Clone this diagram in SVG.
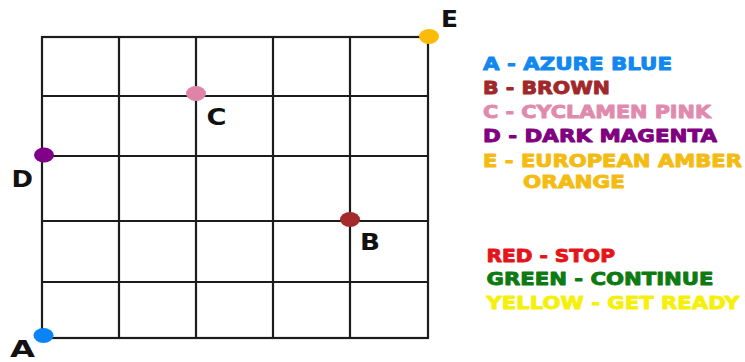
<svg xmlns="http://www.w3.org/2000/svg" width="745" height="362" viewBox="0 0 745 362">
<style>
.g{stroke:#1c1c1c;stroke-width:2.2;fill:none}
.lbl{font-family:"DejaVu Sans","Liberation Sans",sans-serif;font-weight:bold;font-size:23px;fill:#111}
.leg{font-family:"DejaVu Sans","Liberation Sans",sans-serif;font-weight:bold;font-size:17.5px;stroke-width:0.9;stroke-linejoin:round}
</style>
<rect width="745" height="362" fill="#fff"/>
<g id="grid" class="g">
<rect x="42" y="37" width="386" height="301"/>
<line x1="119" y1="37" x2="119" y2="338"/>
<line x1="196" y1="37" x2="196" y2="338"/>
<line x1="273" y1="37" x2="273" y2="338"/>
<line x1="350" y1="37" x2="350" y2="338"/>
<line x1="42" y1="96" x2="428" y2="96"/>
<line x1="42" y1="156" x2="428" y2="156"/>
<line x1="42" y1="221" x2="428" y2="221"/>
<line x1="42" y1="282" x2="428" y2="282"/>
</g>
<g id="connectors"></g>
<g id="pointA">
<ellipse cx="43.5" cy="335.5" rx="10" ry="7.5" fill="#0a84f5"/>
<text class="lbl" x="10" y="357" font-size="16" textLength="25" lengthAdjust="spacingAndGlyphs">A</text>
</g>
<g id="pointB">
<ellipse cx="350" cy="219.5" rx="10" ry="7.5" fill="#a52a2a"/>
<text class="lbl" x="360" y="250" textLength="20" lengthAdjust="spacingAndGlyphs">B</text>
</g>
<g id="pointC">
<ellipse cx="196" cy="93.5" rx="10" ry="7.5" fill="#de84a8"/>
<text class="lbl" x="206.5" y="125" textLength="20" lengthAdjust="spacingAndGlyphs">C</text>
</g>
<g id="pointD">
<ellipse cx="44" cy="155" rx="10" ry="7.5" fill="#800087"/>
<text class="lbl" x="11.5" y="187" textLength="21.5" lengthAdjust="spacingAndGlyphs">D</text>
</g>
<g id="pointE">
<ellipse cx="429" cy="36.5" rx="10" ry="7.5" fill="#fbbc09"/>
<text class="lbl" x="441" y="26.5" textLength="17" lengthAdjust="spacingAndGlyphs">E</text>
</g>
<g id="legend-points" class="leg">
<text x="483" y="70" fill="#1187f0" stroke="#1187f0" textLength="189" lengthAdjust="spacingAndGlyphs">A - AZURE BLUE</text>
<text x="483" y="93.5" fill="#a0282a" stroke="#a0282a" textLength="127" lengthAdjust="spacingAndGlyphs">B - BROWN</text>
<text x="483" y="118" fill="#e08aae" stroke="#e08aae" textLength="228" lengthAdjust="spacingAndGlyphs">C - CYCLAMEN PINK</text>
<text x="483" y="141.5" fill="#800080" stroke="#800080" textLength="234" lengthAdjust="spacingAndGlyphs">D - DARK MAGENTA</text>
<text x="483" y="166.5" fill="#f4bb12" stroke="#f4bb12" textLength="259" lengthAdjust="spacingAndGlyphs">E - EUROPEAN AMBER</text>
<text x="523" y="188" fill="#f4bb12" stroke="#f4bb12" textLength="102" lengthAdjust="spacingAndGlyphs">ORANGE</text>
</g>
<g id="legend-signals" class="leg">
<text x="486.5" y="261.5" fill="#e5141a" stroke="#e5141a" textLength="128.5" lengthAdjust="spacingAndGlyphs">RED - STOP</text>
<text x="486.5" y="285" fill="#0d7a12" stroke="#0d7a12" textLength="227" lengthAdjust="spacingAndGlyphs">GREEN - CONTINUE</text>
<text x="486.5" y="309" fill="#f5f00a" stroke="#f5f00a" textLength="253" lengthAdjust="spacingAndGlyphs">YELLOW - GET READY</text>
</g>
</svg>
